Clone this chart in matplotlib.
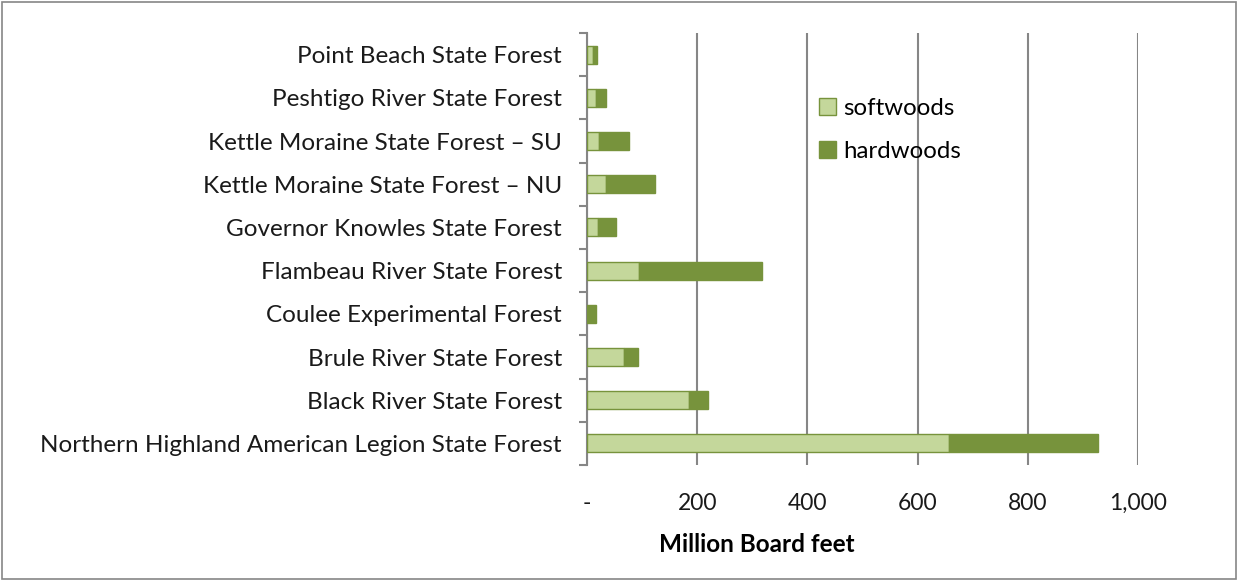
import numpy as np
import matplotlib.pyplot as plt
from matplotlib.patches import Rectangle
from matplotlib.ticker import FuncFormatter

forests = ['Northern Highland American Legion State Forest', 'Black River State Forest',
           'Brule River State Forest', 'Coulee Experimental Forest',
           'Flambeau River State Forest', 'Governor Knowles State Forest',
           'Kettle Moraine State Forest \u2013 NU', 'Kettle Moraine State Forest \u2013 SU',
           'Peshtigo River State Forest', 'Point Beach State Forest']
softwoods = [657, 186, 67, 0, 95, 20, 34, 21, 16, 10]
hardwoods = [271, 33, 26, 16, 223, 32, 89, 55, 18, 8]

plt.rcParams['font.family'] = ['Lato', 'DejaVu Sans']

fig = plt.figure(figsize=(12.38, 5.81), dpi=100)
ax = fig.add_axes([587 / 1238, 1 - 465 / 581, 551 / 1238, 432 / 581])

y = np.arange(len(forests))
h = 0.42
light = '#c4d79b'
dark = '#77933c'
ax.barh(y, softwoods, h, color=light, edgecolor=dark, linewidth=1, label='softwoods', zorder=3)
ax.barh(y, hardwoods, h, left=softwoods, color=dark, edgecolor=dark, linewidth=1,
        label='hardwoods', zorder=3)

ax.set_xlim(0, 1000)
ax.set_ylim(-0.5, len(forests) - 0.5)
ax.set_xticks(np.arange(0, 1001, 200))
ax.xaxis.set_major_formatter(FuncFormatter(lambda v, p: '-' if v == 0 else f'{int(v):,}'))
ax.set_yticks(y)
ax.set_yticklabels(forests)
ax.set_yticks(np.arange(-0.5, len(forests), 1), minor=True)
ax.tick_params(axis='y', which='major', length=0, pad=18, labelsize=17.5, colors='#1a1a1a')
ax.tick_params(axis='y', which='minor', length=6, width=1.5, color='#868686', direction='out')
ax.tick_params(axis='x', length=0, pad=20, labelsize=16.5, colors='#1a1a1a')
ax.grid(axis='x', color='#868686', linewidth=1.5, zorder=0)
for s in ['top', 'right', 'bottom']:
    ax.spines[s].set_visible(False)
ax.spines['left'].set_color('#868686')
ax.spines['left'].set_linewidth(1.5)
ax.set_xlabel('Million Board feet', fontsize=17.5, fontweight='bold')
ax.xaxis.set_label_coords(0.309, -0.158)

ax.legend(loc='upper left', bbox_to_anchor=(0.382, 0.899), frameon=False, fontsize=17.3,
          handlelength=0.7, handleheight=0.7, handletextpad=0.3, labelspacing=0.9)

fig.patches.append(Rectangle((0.002, 0.004), 0.996, 0.992, transform=fig.transFigure,
                             fill=False, edgecolor='#868686', linewidth=1.2))

fig.savefig('out.png', dpi=100)
